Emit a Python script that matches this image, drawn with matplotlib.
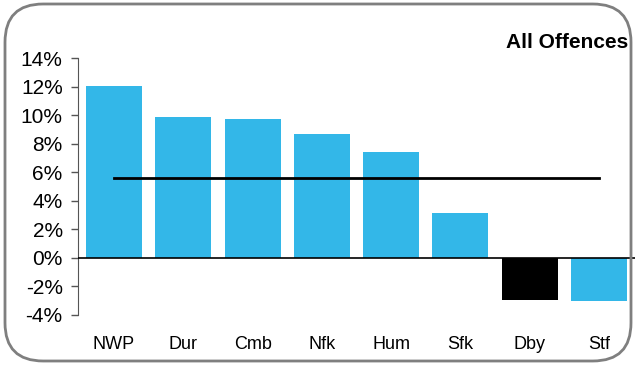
import matplotlib.pyplot as plt
import numpy as np
from matplotlib.patches import FancyBboxPatch
from matplotlib.ticker import FuncFormatter

forces = ["NWP", "Dur", "Cmb", "Nfk", "Hum", "Sfk", "Dby", "Stf"]
change = [12.05, 9.87, 9.75, 8.7, 7.45, 3.17, -2.92, -2.99]
average = 5.62
title = "All Offences"

plt.rcParams["font.family"] = ["Liberation Sans", "DejaVu Sans"]

fig = plt.figure(figsize=(6.36, 3.66), dpi=100)
ax = fig.add_axes([78 / 636, 1 - 315 / 366, 557 / 636, 257 / 366])

x = np.arange(len(forces))
colors = ["#33b7e8"] * len(forces)
colors[forces.index("Dby")] = "#000000"
ax.bar(x, change, width=0.81, color=colors, zorder=2)

# average line across all forces
ax.plot([x[0], x[-1]], [average, average], color="black", lw=2, zorder=3)
ax.axhline(0, color="black", lw=1.2, zorder=4)

ax.set_xlim(-0.52, len(forces) - 0.48)
ax.set_ylim(-4, 14)
ax.set_yticks(np.arange(-4, 15, 2))
ax.yaxis.set_major_formatter(FuncFormatter(lambda v, p: f"{v:.0f}%"))
ax.set_xticks(x)
ax.set_xticklabels(forces, fontsize=13)
ax.tick_params(axis="x", length=0, pad=15)
ax.tick_params(axis="y", labelsize=15, length=5, width=1, color="#555555", pad=6)

for s in ["top", "right", "bottom"]:
    ax.spines[s].set_visible(False)
ax.spines["left"].set_color("#555555")

fig.text(628 / 636, 1 - 42 / 366, title, ha="right", va="center",
         fontsize=15, fontweight="bold")

# rounded frame
frame = FancyBboxPatch((5 / 636, 5 / 366), 626 / 636, 357 / 366,
                       boxstyle="round,pad=0,rounding_size=0.06",
                       transform=fig.transFigure, fill=False,
                       edgecolor="#7f7f7f", lw=2, mutation_aspect=636 / 366)
fig.patches.append(frame)

fig.savefig("out.png", dpi=100)
